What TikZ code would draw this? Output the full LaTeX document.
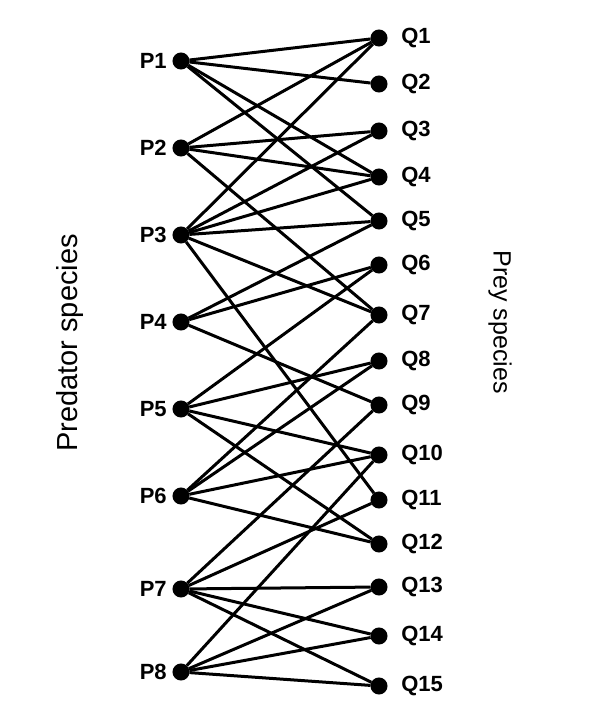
\documentclass[tikz,border=0pt]{standalone}
\usepackage{fontspec}
\setmainfont{Liberation Sans}
\usepackage{tikz}

\begin{document}
\begin{tikzpicture}[x=1pt, y=-1pt,
		dot/.style={circle, fill=black, draw=black, inner sep=0pt, minimum size=14pt},
		plabel/.style={label={[font=\fontsize{22}{22}\selectfont\bfseries, xshift=-1pt]left:#1}},
		qlabel/.style={label={[font=\fontsize{22}{22}\selectfont\bfseries, xshift=9pt]right:#1}},
		every path/.style={line width=3pt}]
			\useasboundingbox (0,0) rectangle (601,718);
			% Nodes
			\node[dot, plabel=P1] (p1) at (181,61) {};
			\node[dot, plabel=P2] (p2) at (181,148) {};
			\node[dot, plabel=P3] (p3) at (181,235) {};
			\node[dot, plabel=P4] (p4) at (181,322) {};
			\node[dot, plabel=P5] (p5) at (181,409) {};
			\node[dot, plabel=P6] (p6) at (181,496) {};
			\node[dot, plabel=P7] (p7) at (181,589) {};
			\node[dot, plabel=P8] (p8) at (181,672) {};
			\node[dot, qlabel=Q1] (q1) at (379,38) {};
			\node[dot, qlabel=Q2] (q2) at (379,84) {};
			\node[dot, qlabel=Q3] (q3) at (379,131) {};
			\node[dot, qlabel=Q4] (q4) at (379,177) {};
			\node[dot, qlabel=Q5] (q5) at (379,221) {};
			\node[dot, qlabel=Q6] (q6) at (379,265) {};
			\node[dot, qlabel=Q7] (q7) at (379,315) {};
			\node[dot, qlabel=Q8] (q8) at (379,361) {};
			\node[dot, qlabel=Q9] (q9) at (379,405) {};
			\node[dot, qlabel=Q10] (q10) at (379,455) {};
			\node[dot, qlabel=Q11] (q11) at (379,500) {};
			\node[dot, qlabel=Q12] (q12) at (379,544) {};
			\node[dot, qlabel=Q13] (q13) at (379,587) {};
			\node[dot, qlabel=Q14] (q14) at (379,636) {};
			\node[dot, qlabel=Q15] (q15) at (379,686) {};
			\node[rotate=90, font=\fontsize{29}{29}\selectfont] (pred) at (70,343) {Predator species};
			\node[rotate=-90, font=\fontsize{25}{25}\selectfont] (prey) at (500,322) {Prey species};
			% Edges
			\draw (p1) -- (q1);
			\draw (p1) -- (q2);
			\draw (p1) -- (q4);
			\draw (p1) -- (q5);
			\draw (p2) -- (q1);
			\draw (p2) -- (q3);
			\draw (p2) -- (q4);
			\draw (p2) -- (q7);
			\draw (p3) -- (q1);
			\draw (p3) -- (q3);
			\draw (p3) -- (q4);
			\draw (p3) -- (q5);
			\draw (p3) -- (q7);
			\draw (p3) -- (q11);
			\draw (p4) -- (q5);
			\draw (p4) -- (q6);
			\draw (p4) -- (q9);
			\draw (p5) -- (q6);
			\draw (p5) -- (q8);
			\draw (p5) -- (q10);
			\draw (p5) -- (q12);
			\draw (p6) -- (q7);
			\draw (p6) -- (q8);
			\draw (p6) -- (q10);
			\draw (p6) -- (q12);
			\draw (p7) -- (q9);
			\draw (p7) -- (q11);
			\draw (p7) -- (q13);
			\draw (p7) -- (q14);
			\draw (p7) -- (q15);
			\draw (p8) -- (q10);
			\draw (p8) -- (q13);
			\draw (p8) -- (q14);
			\draw (p8) -- (q15);
		\end{tikzpicture}
\end{document}
